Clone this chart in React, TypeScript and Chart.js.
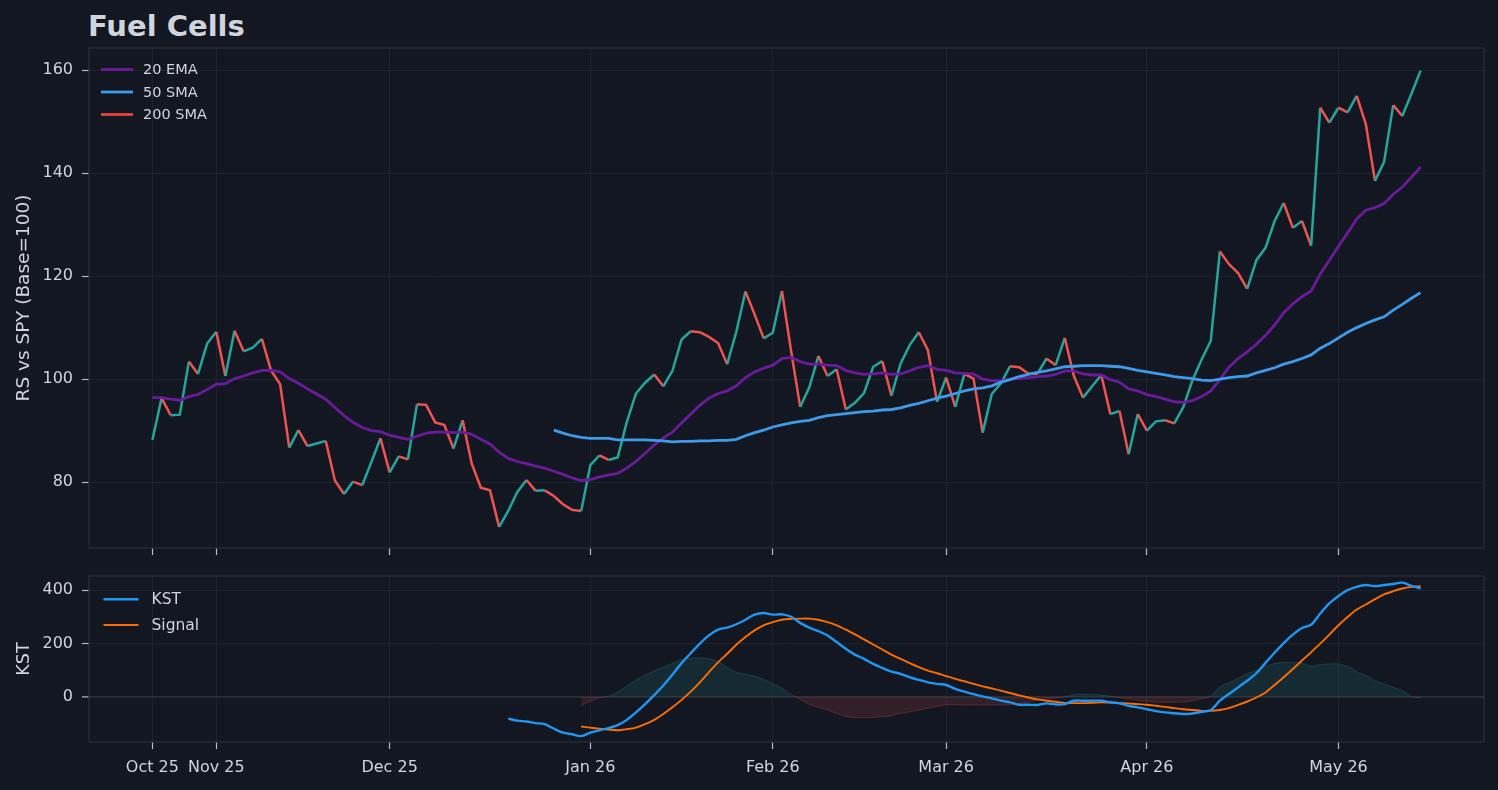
import { useEffect, useRef } from "react";
import { Chart, registerables } from "chart.js";

Chart.register(...registerables);
Chart.defaults.font.family = '"DejaVu Sans", sans-serif';

// x axis = trading-day index, month ticks at first session of each month
const MONTH_TICKS = [0, 7, 26, 48, 68, 87, 109, 130];
const MONTH_LABELS = ["Oct 25", "Nov 25", "Dec 25", "Jan 26", "Feb 26", "Mar 26", "Apr 26", "May 26"];

const RS_TICKS = [80, 100, 120, 140, 160];
const KST_TICKS = [0, 200, 400];

const RS = [
  88.2, 96.3, 93.0, 93.1, 103.4, 101.0, 106.9, 109.2, 100.6, 109.4,
  105.4, 106.1, 107.8, 101.7, 99.0, 86.7, 90.1, 87.0, 87.5, 88.0,
  80.3, 77.7, 80.1, 79.4, 83.9, 88.5, 81.9, 85.0, 84.4, 95.1,
  95.0, 91.6, 91.1, 86.5, 92.0, 83.6, 78.9, 78.4, 71.3, 74.4,
  78.1, 80.4, 78.3, 78.4, 77.3, 75.7, 74.6, 74.4, 83.3, 85.2,
  84.3, 84.8, 91.7, 97.2, 99.3, 100.9, 98.6, 101.6, 107.7, 109.3,
  109.1, 108.2, 107.0, 102.9, 109.2, 117.0, 112.6, 107.9, 109.0, 117.1,
  105.5, 94.6, 98.4, 104.5, 100.6, 101.9, 94.1, 95.4, 97.3, 102.4,
  103.5, 96.8, 103.0, 106.6, 109.1, 105.6, 95.6, 100.3, 94.6, 101.0,
  100.1, 89.6, 97.1, 99.2, 102.5, 102.3, 101.1, 101.0, 104.0, 102.7,
  108.0, 100.6, 96.4, 98.6, 100.8, 93.2, 93.8, 85.4, 93.2, 90.0,
  91.8, 92.0, 91.4, 94.6, 99.8, 103.8, 107.4, 124.8, 122.3, 120.6,
  117.5, 123.1, 125.5, 130.7, 134.2, 129.4, 130.7, 125.9, 152.7, 149.8,
  152.7, 151.8, 155.0, 149.5, 138.5, 142.2, 153.2, 151.1, 155.4, 159.9,
];

const EMA20 = [
  96.4, 96.4, 96.1, 95.9, 96.6, 97.0, 98.0, 99.0, 99.1, 100.1,
  100.6, 101.2, 101.7, 101.7, 101.4, 100.1, 99.2, 98.1, 97.1, 96.1,
  94.5, 92.9, 91.6, 90.6, 90.0, 89.8, 89.1, 88.7, 88.3, 88.9,
  89.5, 89.7, 89.7, 89.6, 89.7, 89.3, 88.3, 87.4, 85.8, 84.6,
  84.0, 83.6, 83.1, 82.7, 82.1, 81.5, 80.8, 80.3, 80.5, 81.0,
  81.4, 81.7, 82.7, 84.0, 85.6, 87.2, 88.6, 89.7, 91.5, 93.2,
  94.9, 96.3, 97.2, 97.7, 98.7, 100.3, 101.4, 102.1, 102.7, 104.0,
  104.2, 103.4, 102.9, 102.9, 102.7, 102.6, 101.7, 101.2, 100.9, 101.0,
  101.2, 100.9, 101.0, 101.6, 102.3, 102.6, 101.9, 101.7, 101.2, 101.1,
  101.0, 100.0, 99.7, 99.7, 100.0, 100.1, 100.3, 100.5, 100.6, 100.9,
  101.6, 101.6, 101.0, 100.8, 100.8, 99.9, 99.4, 98.1, 97.7, 97.0,
  96.6, 96.1, 95.6, 95.5, 95.8, 96.6, 97.7, 99.9, 102.3, 104.0,
  105.3, 106.8, 108.5, 110.5, 112.9, 114.6, 116.0, 117.1, 120.4, 123.1,
  125.8, 128.4, 131.1, 132.8, 133.3, 134.1, 135.9, 137.3, 139.2, 141.2,
];

const SMA50_START = 44;
const SMA50 = [
  90.1, 89.5, 89.0, 88.7, 88.5, 88.5, 88.5, 88.2, 88.2, 88.2,
  88.2, 88.1, 88.0, 87.8, 87.9, 87.9, 88.0, 88.0, 88.1, 88.1,
  88.3, 89.0, 89.6, 90.1, 90.7, 91.1, 91.5, 91.8, 92.0, 92.5,
  92.9, 93.1, 93.3, 93.5, 93.7, 93.8, 94.0, 94.1, 94.4, 94.9,
  95.3, 95.8, 96.3, 96.7, 97.2, 97.7, 98.1, 98.3, 98.7, 99.4,
  99.9, 100.5, 100.9, 101.3, 101.6, 102.0, 102.4, 102.5, 102.6, 102.6,
  102.6, 102.5, 102.4, 102.1, 101.7, 101.4, 101.1, 100.8, 100.5, 100.3,
  100.1, 99.8, 99.7, 100.0, 100.3, 100.5, 100.6, 101.2, 101.7, 102.2,
  102.9, 103.4, 104.0, 104.7, 106.0, 106.9, 108.0, 109.1, 110.0, 110.8,
  111.5, 112.1, 113.4, 114.5, 115.7, 116.8,
];

const KST_START = 39;
const KST = [
  -82, -90, -93, -99, -103, -120, -135, -141, -148, -135,
  -126, -118, -107, -87, -59, -28, 6, 42, 83, 126,
  163, 199, 230, 252, 259, 272, 289, 308, 314, 308,
  309, 300, 277, 259, 246, 230, 205, 180, 158, 142,
  123, 108, 94, 86, 73, 63, 54, 48, 44, 29,
  19, 10, 1, -6, -15, -21, -30, -30, -31, -25,
  -29, -28, -15, -15, -15, -15, -21, -25, -34, -40,
  -47, -54, -59, -62, -65, -63, -57, -50, -15, 10,
  35, 60, 88, 127, 165, 201, 233, 258, 270, 312,
  350, 378, 400, 412, 419, 415, 419, 423, 428, 416,
  406,
];

const SIGNAL_START = 47;
const SIGNAL = [
  -112, -116, -120, -123, -126, -122, -116, -103, -87, -65,
  -40, -12, 19, 54, 92, 129, 161, 195, 224, 249,
  268, 280, 289, 292, 293, 293, 289, 280, 268, 252,
  234, 215, 196, 177, 158, 142, 126, 111, 98, 88,
  77, 67, 58, 48, 39, 31, 23, 14, 5, -3,
  -10, -15, -19, -23, -24, -24, -23, -21, -22, -23,
  -25, -28, -30, -34, -38, -43, -47, -50, -53, -53,
  -50, -43, -31, -18, -3, 16, 44, 73, 104, 136,
  167, 199, 233, 268, 299, 327, 346, 366, 384, 396,
  406, 412, 415,
];

const HIST_START = 47;
const HIST = [
  -34, -16, -3, 2, 18, 40, 62, 80, 97, 112,
  125, 139, 145, 146, 142, 132, 110, 92, 84, 77,
  65, 48, 32, 9, -10, -29, -40, -50, -63, -74,
  -78, -78, -78, -75, -72, -62, -57, -50, -43, -37,
  -30, -30, -31, -31, -31, -31, -31, -30, -28, -20,
  -14, -9, -5, -1, 8, 9, 8, 6, 2, -3,
  -9, -13, -17, -20, -21, -21, -20, -15, -8, 2,
  37, 52, 69, 86, 98, 113, 125, 128, 128, 126,
  114, 120, 123, 123, 114, 94, 79, 60, 48, 35,
  23, 1, -3,
];

const BG = "#131722";
const TEXT = "#d1d4dc";
const GRID = "#1e222d";
const SPINE = "#2a2e39";
const TICK = "#b8bbc4";
const UP = "#26a69a";
const DOWN = "#ef5350";
const X_MIN = -6.95;
const X_MAX = 145.95;

const toPoints = (values: number[], start = 0) => values.map((y, k) => ({ x: start + k, y }));

const framePlugin = {
  id: "frame",
  afterDraw(chart: any) {
    const { ctx, chartArea: a } = chart;
    ctx.save();
    ctx.strokeStyle = SPINE;
    ctx.lineWidth = 1.2;
    ctx.strokeRect(a.left, a.top, a.right - a.left, a.bottom - a.top);
    ctx.restore();
  },
};

const innerLegend = {
  id: "innerLegend",
  afterDraw(chart: any, _args: any, opts: any) {
    const { ctx, chartArea: a } = chart;
    const items = chart.data.datasets.filter((d: any) => !d.hideLegend);
    ctx.save();
    ctx.font = `${opts.size}px "DejaVu Sans", sans-serif`;
    ctx.textBaseline = "middle";
    items.forEach((d: any, k: number) => {
      const x = a.left + opts.left;
      const y = a.top + opts.top + k * opts.gap;
      ctx.strokeStyle = d.borderColor;
      ctx.lineWidth = d.borderWidth;
      ctx.beginPath();
      ctx.moveTo(x, y);
      ctx.lineTo(x + opts.len, y);
      ctx.stroke();
      ctx.fillStyle = TEXT;
      ctx.fillText(d.label, x + opts.len + opts.textGap, y + 1);
    });
    ctx.restore();
  },
};

function xScale(labels: boolean, height: number) {
  return {
    type: "linear",
    min: X_MIN,
    max: X_MAX,
    afterBuildTicks: (s: any) => {
      s.ticks = MONTH_TICKS.map((value) => ({ value }));
    },
    afterFit: (s: any) => {
      s.height = height;
      s.paddingLeft = 0;
      s.paddingRight = 0;
    },
    border: { display: false },
    grid: { color: GRID, tickColor: TICK, tickLength: 7, tickWidth: 1.2 },
    ticks: {
      display: labels,
      color: TEXT,
      padding: 9.5,
      maxRotation: 0,
      autoSkip: false,
      font: { size: 16 },
      callback: (_v: any, i: number) => MONTH_LABELS[i],
    },
  };
}

function yScale(min: number, max: number, ticks: number[], title: string, size: number, zeroLine: boolean) {
  return {
    min,
    max,
    afterBuildTicks: (s: any) => {
      s.ticks = ticks.map((value) => ({ value }));
    },
    afterFit: (s: any) => {
      s.width = 89;
      s.paddingTop = 0;
      s.paddingBottom = 0;
    },
    border: { display: false },
    grid: {
      color: (c: any) => (zeroLine && c.tick && c.tick.value === 0 ? SPINE : GRID),
      lineWidth: (c: any) => (zeroLine && c.tick && c.tick.value === 0 ? 1.8 : 1),
      tickColor: TICK,
      tickLength: 7,
      tickWidth: 1.2,
    },
    ticks: { color: TEXT, padding: 9, font: { size: 16 } },
    title: {
      display: true,
      text: title,
      color: TEXT,
      font: { size },
      padding: { top: 24 - size * 0.6, bottom: 0 },
    },
  };
}

export default function App() {
  const topRef = useRef<HTMLCanvasElement>(null);
  const bottomRef = useRef<HTMLCanvasElement>(null);

  useEffect(() => {
    document.body.style.margin = "0";
    document.body.style.background = BG;
    if (!topRef.current || !bottomRef.current) return;

    const top = new Chart(topRef.current, {
      type: "line",
      data: {
        datasets: [
          {
            label: "RS",
            hideLegend: true,
            data: toPoints(RS),
            borderColor: UP,
            borderWidth: 2.5,
            segment: {
              borderColor: (c: any) => (c.p1.parsed.y >= c.p0.parsed.y ? UP : DOWN),
            },
            order: 2,
          },
          { label: "20 EMA", data: toPoints(EMA20), borderColor: "#6a1b9a", borderWidth: 2.8, order: 1 },
          { label: "50 SMA", data: toPoints(SMA50, SMA50_START), borderColor: "#3d9be9", borderWidth: 2.8, order: 0 },
          { label: "200 SMA", data: [], borderColor: "#e8453c", borderWidth: 2.8, order: 3 },
        ] as any,
      },
      options: {
        animation: false,
        responsive: true,
        maintainAspectRatio: false,
        parsing: false,
        layout: { padding: { top: 8, right: 14, left: 0, bottom: 0 } },
        elements: { point: { radius: 0 }, line: { tension: 0 } },
        plugins: {
          legend: { display: false },
          tooltip: { enabled: false },
          innerLegend: { left: 12, top: 21.5, gap: 22.5, len: 32, textGap: 10, size: 14.5 },
        } as any,
        scales: {
          x: xScale(false, 12),
          y: yScale(67.2, 164.3, RS_TICKS, "RS vs SPY (Base=100)", 18.5, false),
        } as any,
      },
      plugins: [framePlugin, innerLegend],
    });

    const bottom = new Chart(bottomRef.current, {
      type: "line",
      data: {
        datasets: [
          { label: "KST", data: toPoints(KST, KST_START), borderColor: "#2196f3", borderWidth: 2.4, order: 0 },
          { label: "Signal", data: toPoints(SIGNAL, SIGNAL_START), borderColor: "#ff6d00", borderWidth: 1.9, order: 1 },
          {
            label: "Hist",
            hideLegend: true,
            data: toPoints(HIST, HIST_START),
            borderWidth: 1,
            borderColor: "rgba(38,166,154,0.25)",
            segment: {
              borderColor: (c: any) =>
                c.p0.parsed.y + c.p1.parsed.y >= 0 ? "rgba(38,166,154,0.25)" : "rgba(239,83,80,0.25)",
            },
            fill: { target: "origin", above: "rgba(38,166,154,0.14)", below: "rgba(239,83,80,0.14)" },
            order: 2,
          },
        ] as any,
      },
      options: {
        animation: false,
        responsive: true,
        maintainAspectRatio: false,
        parsing: false,
        layout: { padding: { top: 8, right: 14, left: 0, bottom: 0 } },
        elements: { point: { radius: 0 }, line: { tension: 0.3 } },
        plugins: {
          legend: { display: false },
          tooltip: { enabled: false },
          innerLegend: { left: 14.5, top: 23.3, gap: 25.7, len: 35, textGap: 13, size: 15.5 },
        } as any,
        scales: {
          x: xScale(true, 48),
          y: yScale(-170, 453, KST_TICKS, "KST", 17.5, true),
        } as any,
      },
      plugins: [framePlugin, innerLegend],
    });

    return () => {
      top.destroy();
      bottom.destroy();
    };
  }, []);

  return (
    <div style={{ position: "relative", width: 1498, height: 790, background: BG, overflow: "hidden" }}>
      <div
        style={{
          position: "absolute",
          left: 88,
          top: 12,
          fontFamily: '"DejaVu Sans", sans-serif',
          fontWeight: "bold",
          fontSize: 29,
          lineHeight: "29px",
          color: TEXT,
        }}
      >
        Fuel Cells
      </div>
      <div style={{ position: "absolute", left: 0, top: 40, width: 1498, height: 520 }}>
        <canvas ref={topRef} />
      </div>
      <div style={{ position: "absolute", left: 0, top: 568, width: 1498, height: 222 }}>
        <canvas ref={bottomRef} />
      </div>
    </div>
  );
}
